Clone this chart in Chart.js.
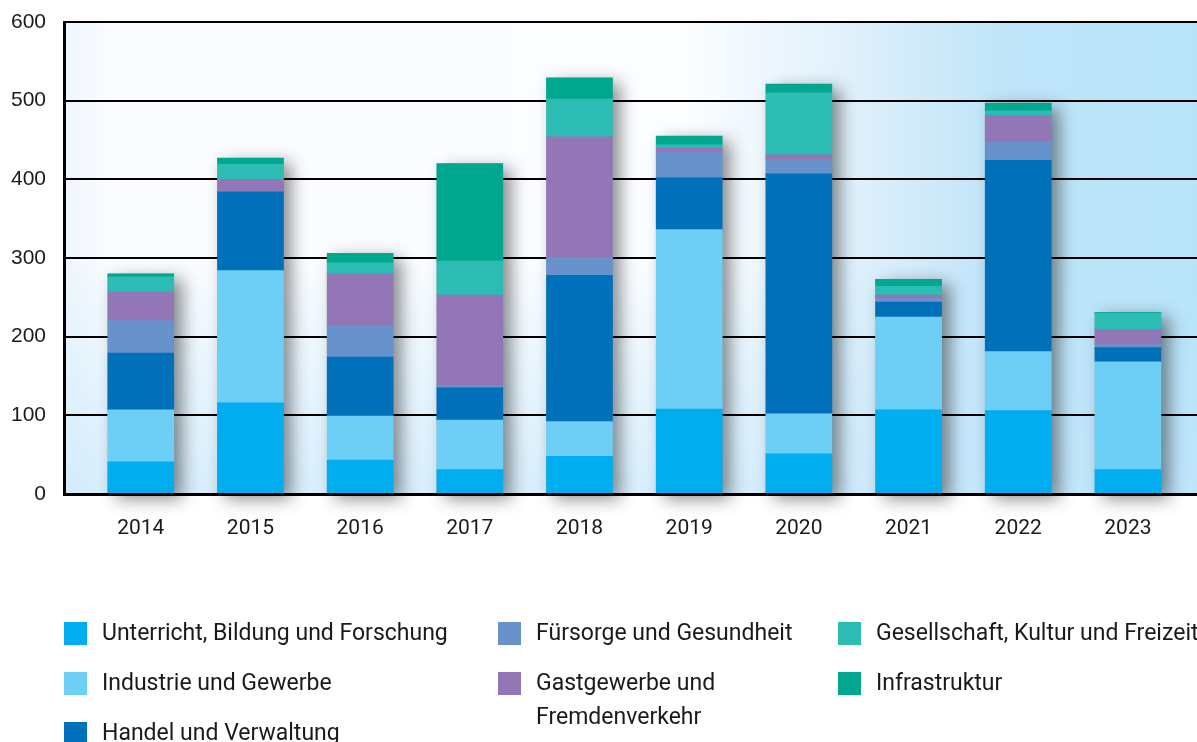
<!DOCTYPE html>
<html>
<head>
<meta charset="utf-8">
<script src="https://cdn.jsdelivr.net/npm/chart.js@4/dist/chart.umd.min.js"></script>
<style>
  html, body { margin: 0; padding: 0; background: #fff; overflow: hidden; }
  #wrap { position: relative; width: 1197px; height: 742px; }
  #legend { position: absolute; left: 0; top: 0; width: 1197px; height: 742px; pointer-events: none;
            font-family: Roboto, "Noto Sans", sans-serif; font-size: 23px; color: #1a1a1a; }
  .item { position: absolute; line-height: 34px; white-space: nowrap; }
  .item .sw { position: absolute; left: 0; top: 6px; width: 23px; height: 23px; }
  .item .tx { position: absolute; left: 38px; top: 0; }
</style>
</head>
<body>
<div id="wrap">
  <canvas id="chart" width="1197" height="742"></canvas>
  <div id="legend"></div>
</div>
<script>
// data (Anzahl, gestapelt nach Kategorie)
var years = ['2014', '2015', '2016', '2017', '2018', '2019', '2020', '2021', '2022', '2023'];
var unterricht   = [41, 116, 43, 31, 48, 108, 51, 107, 106, 31];
var industrie    = [66, 168, 56, 63, 44, 228, 51, 118, 75, 137];
var handel       = [72, 100, 75, 41, 186, 66, 305, 19, 243, 18];
var fuersorge    = [41, 0, 40, 3, 23, 32, 18, 4, 23, 4];
var gastgewerbe  = [37, 16, 66, 115, 153, 6, 6, 5, 34, 19];
var gesellschaft = [19, 19, 14, 43, 48, 4, 79, 11, 6, 21];
var infrastruktur = [4, 8, 12, 124, 27, 11, 11, 9, 10, 1];
var yTicks = [0, 100, 200, 300, 400, 500, 600];

var series = [
  {label: 'Unterricht, Bildung und Forschung', data: unterricht, color: '#00aeef'},
  {label: 'Industrie und Gewerbe', data: industrie, color: '#6dcff6'},
  {label: 'Handel und Verwaltung', data: handel, color: '#0070ba'},
  {label: 'Fürsorge und Gesundheit', data: fuersorge, color: '#6892cb'},
  {label: 'Gastgewerbe und\nFremdenverkehr', data: gastgewerbe, color: '#9376b5'},
  {label: 'Gesellschaft, Kultur und Freizeit', data: gesellschaft, color: '#2dbcb4'},
  {label: 'Infrastruktur', data: infrastruktur, color: '#00a78e'}
];

var totals = years.map(function (y, i) {
  return series.reduce(function (s, d) { return s + d.data[i]; }, 0);
});

// plot background (white top-left, light blue towards right and bottom)
var bgPlugin = {
  id: 'bg',
  beforeDraw: function (chart) {
    var a = chart.chartArea, ctx = chart.ctx;
    ctx.save();
    var g = ctx.createLinearGradient(a.left, 0, a.right, 0);
    g.addColorStop(0, '#eef6fd');
    g.addColorStop(0.04, '#fafcff');
    g.addColorStop(0.55, '#fbfdff');
    g.addColorStop(0.7, '#def0fb');
    g.addColorStop(0.82, '#c0e5f9');
    g.addColorStop(1, '#b8e3f9');
    ctx.fillStyle = g;
    ctx.fillRect(a.left, a.top, a.right - a.left, a.bottom - a.top);
    var v = ctx.createLinearGradient(0, a.top, 0, a.bottom);
    v.addColorStop(0, 'rgba(190,228,249,0)');
    v.addColorStop(0.5, 'rgba(190,228,249,0)');
    v.addColorStop(1, 'rgba(196,230,250,0.65)');
    ctx.fillStyle = v;
    ctx.fillRect(a.left, a.top, a.right - a.left, a.bottom - a.top);
    ctx.restore();
  }
};

// soft drop shadow behind every stacked column
var shadowPlugin = {
  id: 'barShadow',
  beforeDatasetsDraw: function (chart) {
    var ctx = chart.ctx, xs = chart.scales.x, ys = chart.scales.y;
    ctx.save();
    ctx.shadowColor = 'rgba(0,0,0,0.45)';
    ctx.shadowBlur = 16;
    ctx.shadowOffsetX = 8;
    ctx.shadowOffsetY = 5;
    ctx.fillStyle = '#999';
    totals.forEach(function (t, i) {
      var cx = xs.getPixelForValue(i);
      var top = ys.getPixelForValue(t);
      var bottom = ys.getPixelForValue(0);
      ctx.fillRect(cx - 33, top, 66, bottom - top);
    });
    ctx.restore();
  }
};

new Chart(document.getElementById('chart'), {
  type: 'bar',
  data: {
    datasets: series.map(function (s) {
      return {
        label: s.label,
        data: s.data.map(function (v, i) { return {x: i, y: v}; }),
        backgroundColor: s.color,
        borderWidth: 0,
        barThickness: 66
      };
    })
  },
  options: {
    responsive: false,
    animation: false,
    layout: {padding: {left: 0, right: 0, top: 22, bottom: 188}},
    plugins: {legend: {display: false}, tooltip: {enabled: false}},
    scales: {
      x: {
        type: 'linear',
        stacked: true,
        offset: false,
        min: -0.7,
        max: 9.63,
        afterBuildTicks: function (scale) {
          scale.ticks = years.map(function (y, i) { return {value: i}; });
        },
        afterFit: function (scale) { scale.height = 60; },
        grid: {display: false, drawTicks: false, offset: false},
        border: {display: true, color: '#000', width: 3, z: 1},
        ticks: {
          padding: 22,
          color: '#1a1a1a',
          font: {family: 'Roboto', size: 21},
          callback: function (v) { return years[v]; }
        }
      },
      y: {
        stacked: true,
        min: 0,
        max: 600,
        afterBuildTicks: function (scale) {
          scale.ticks = yTicks.map(function (v) { return {value: v}; });
        },
        afterFit: function (scale) {
          scale.width = 64;
          scale.paddingTop = 0;
          scale.paddingBottom = 0;
        },
        grid: {color: '#000', lineWidth: 2, drawTicks: false},
        border: {display: true, color: '#000', width: 3, z: 1},
        ticks: {
          padding: 18,
          color: '#1a1a1a',
          font: {family: '"Liberation Sans", Arial, sans-serif', size: 21}
        }
      }
    }
  },
  plugins: [bgPlugin, shadowPlugin]
});

// legend in three columns below the chart
var legendPos = [
  [64, 616], [64, 666], [64, 716],
  [498, 616], [498, 666],
  [838, 616], [838, 666]
];
var leg = document.getElementById('legend');
series.forEach(function (s, i) {
  var d = document.createElement('div');
  d.className = 'item';
  d.style.left = legendPos[i][0] + 'px';
  d.style.top = legendPos[i][1] + 'px';
  d.innerHTML = '<span class="sw" style="background:' + s.color + '"></span><span class="tx">' +
    s.label.replace('\n', '<br>') + '</span>';
  leg.appendChild(d);
});
</script>
</body>
</html>
